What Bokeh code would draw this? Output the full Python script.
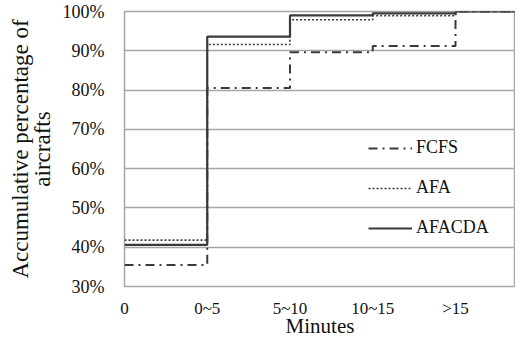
from bokeh.plotting import figure
from bokeh.models import FixedTicker, NumeralTickFormatter, Range1d, Legend, LegendItem
from bokeh.embed import file_html
from bokeh.resources import INLINE

categories = ["0", "0~5", "5~10", "10~15", ">15"]
fcfs = [0.355, 0.805, 0.896, 0.912, 1.0]
afa = [0.418, 0.916, 0.979, 0.989, 1.0]
afacda = [0.406, 0.936, 0.990, 0.995, 1.0]

FONT = "Liberation Serif"
LINE = "#3a3a3a"
GRID = "#a6a6a6"

p = figure(width=515, height=340, output_backend="svg", toolbar_location=None,
           x_range=Range1d(0, 4.725), y_range=Range1d(0.3, 1.0),
           min_border_left=124, min_border_right=0, min_border_top=11, min_border_bottom=47)

xs = list(range(len(categories) + 1))
def ext(v):
    return list(v) + [v[-1]]

r1 = p.step(xs, ext(fcfs), mode="after", line_color=LINE, line_width=2, line_dash="9 5 2 5")
r2 = p.step(xs, ext(afa), mode="after", line_color=LINE, line_width=1.6, line_dash="2 2")
r3 = p.step(xs, ext(afacda), mode="after", line_color=LINE, line_width=2.2)

p.xaxis.ticker = FixedTicker(ticks=list(range(len(categories))))
p.xaxis.major_label_overrides = {i: c for i, c in enumerate(categories)}
p.yaxis.ticker = FixedTicker(ticks=[0.3, 0.4, 0.5, 0.6, 0.7, 0.8, 0.9, 1.0])
p.yaxis.formatter = NumeralTickFormatter(format="0%")

for ax in (p.xaxis[0], p.yaxis[0]):
    ax.axis_line_color = None
    ax.major_tick_line_color = None
    ax.minor_tick_line_color = None
    ax.major_tick_out = 0
    ax.major_tick_in = 0
    ax.minor_tick_out = 0
    ax.minor_tick_in = 0
    ax.major_label_text_font = FONT
    ax.major_label_text_color = "#111111"
    ax.axis_label_text_font = FONT
    ax.axis_label_text_font_style = "normal"
    ax.axis_label_text_color = "#111111"

p.xaxis.major_label_text_font_size = "17px"
p.xaxis.axis_label_text_font_size = "21px"
p.xaxis.axis_label = "Minutes"
p.xaxis.major_label_standoff = 12
p.xaxis.axis_label_standoff = -7

p.yaxis.major_label_text_font_size = "18px"
p.yaxis.axis_label_text_font_size = "23px"
p.yaxis.axis_label = "Accumulative percentage of\naircrafts"
p.yaxis.axis_label_text_line_height = 0.88
p.yaxis.major_label_standoff = 20
p.yaxis.axis_label_standoff = 5

p.xgrid.grid_line_color = None
p.ygrid.grid_line_color = GRID
p.ygrid.grid_line_width = 1.5
p.outline_line_color = GRID
p.outline_line_width = 1.5

legend = Legend(items=[LegendItem(label="FCFS", renderers=[r1]),
                       LegendItem(label="AFA", renderers=[r2]),
                       LegendItem(label="AFACDA", renderers=[r3])],
                location=(244, 48), orientation="vertical",
                glyph_width=44, glyph_height=20, label_height=20, spacing=19,
                padding=0, margin=0, label_standoff=4,
                border_line_color=None, background_fill_alpha=0,
                label_text_font=FONT, label_text_font_size="18px", label_text_color="#111111")
p.add_layout(legend, "center")

open("out.html", "w").write(file_html(p, INLINE))
